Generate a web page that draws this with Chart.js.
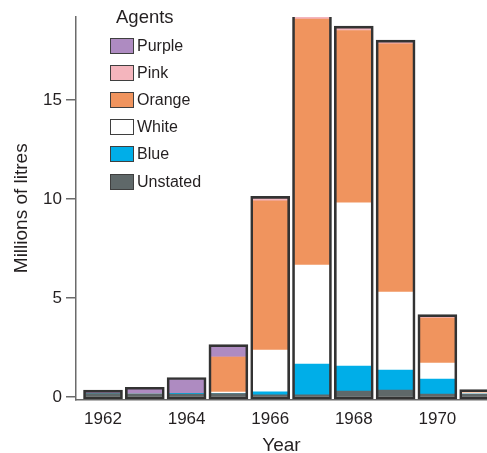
<!DOCTYPE html>
<html>
<head>
<meta charset="utf-8">
<script src="https://cdn.jsdelivr.net/npm/chart.js@4.4.1/dist/chart.umd.min.js"></script>
<style>
  html, body { margin: 0; padding: 0; background: #fff; overflow: hidden; }
  #wrap { position: relative; width: 487px; height: 453px; }
  #legend { position: absolute; left: 0; top: 0; font-family: "Liberation Sans", Arial, sans-serif; color: #231f20; }
  #legend .title { position: absolute; left: 116px; top: 7px; font-size: 18.5px; line-height: 20px; white-space: nowrap; }
  #legend .row { position: absolute; left: 110px; height: 16px; display: flex; align-items: center; white-space: nowrap; }
  #legend .box { width: 24px; height: 16px; box-sizing: border-box; border: 1.5px solid #3f3f3f; }
  #legend .lbl { margin-left: 3px; font-size: 16px; line-height: 16px; }
</style>
</head>
<body>
<div id="wrap">
  <canvas id="agents" width="487" height="453"></canvas>
  <div id="legend"></div>
</div>
<script>
// millions of litres sprayed, by year and agent
const years = [1962, 1963, 1964, 1965, 1966, 1967, 1968, 1969, 1970, 1971];
const unstated = [0.18, 0.15, 0.15, 0.18, 0.12, 0.12, 0.30, 0.35, 0.15, 0.16];
const blue     = [0, 0, 0.04, 0, 0.15, 1.55, 1.27, 1.01, 0.76, 0];
const white    = [0, 0, 0, 0.07, 2.10, 5.00, 8.24, 3.94, 0.81, 0.06];
const orange   = [0, 0, 0, 1.77, 7.55, 12.42, 8.71, 12.55, 2.27, 0.06];
const pink     = [0, 0, 0, 0, 0.12, 0.13, 0.12, 0.08, 0.08, 0];
const purple   = [0.07, 0.25, 0.70, 0.53, 0, 0, 0, 0, 0, 0];

const yTicks = [0, 5, 10, 15];
const xTicks = [1962, 1964, 1966, 1968, 1970];

const FONT = "'Liberation Sans', Arial, sans-serif";
const pad = 0.1; // outline sits just outside the filled stack

const agents = [
  { label: "Unstated", values: unstated, color: "#5f6869" },
  { label: "Blue", values: blue, color: "#00aee8" },
  { label: "White", values: white, color: "#ffffff" },
  { label: "Orange", values: orange, color: "#f0945e" },
  { label: "Pink", values: pink, color: "#f4b5bd" },
  { label: "Purple", values: purple, color: "#ae8bc1" },
];

const totals = years.map((y, i) => agents.reduce((s, a) => s + a.values[i], 0));

const datasets = [
  {
    label: "outline",
    stack: "outline",
    data: years.map((y, i) => ({ x: y, y: [-pad, totals[i] + pad] })),
    backgroundColor: "rgba(0,0,0,0)",
    borderColor: "#333333",
    borderWidth: 2,
    borderSkipped: false,
    barThickness: 39,
    grouped: false,
  },
  ...agents.map((a) => ({
    label: a.label,
    data: years.map((y, i) => ({ x: y, y: a.values[i] })),
    backgroundColor: a.color,
    borderWidth: 0,
    barThickness: 35,
    grouped: false,
  })),
];

const ctx = document.getElementById("agents").getContext("2d");

const chart = new Chart(ctx, {
  type: "bar",
  data: { datasets },
  options: {
    responsive: false,
    animation: false,
    layout: { padding: { top: 17, right: 0, left: 0, bottom: 0 } },
    plugins: { legend: { display: false }, tooltip: { enabled: false } },
    scales: {
      x: {
        type: "linear",
        stacked: true,
        offset: false,
        min: 1961.354,
        max: 1971.187,
        afterBuildTicks: (axis) => { axis.ticks = xTicks.map((v) => ({ value: v })); },
        afterFit: (axis) => { axis.height = 53.5; },
        grid: { display: false, drawTicks: false, offset: false },
        border: { display: true, color: "#6b6b6b", width: 1.5 },
        ticks: {
          font: { family: FONT, size: 17 },
          color: "#231f20",
          padding: 10,
          maxRotation: 0,
          callback: (v) => String(v),
        },
        title: {
          display: true,
          text: "Year",
          font: { family: FONT, size: 19, lineHeight: 1 },
          color: "#231f20",
          padding: { top: 0, bottom: -2 },
        },
      },
      y: {
        stacked: true,
        min: -0.12,
        max: 19.2,
        afterBuildTicks: (axis) => { axis.ticks = yTicks.map((v) => ({ value: v })); },
        afterFit: (axis) => { axis.width = 76; },
        grid: { drawOnChartArea: false, drawTicks: true, tickLength: 10, color: "#6b6b6b", lineWidth: 1.5 },
        border: { display: true, color: "#6b6b6b", width: 1.5 },
        ticks: {
          font: { family: FONT, size: 17 },
          color: "#231f20",
          padding: 4,
          callback: (v) => String(v),
        },
        title: {
          display: true,
          text: "Millions of litres",
          font: { family: FONT, size: 19, lineHeight: 1.2 },
          color: "#231f20",
          padding: { top: 10, bottom: 0 },
        },
      },
    },
  },
});

// legend inside the plot, top agent first
const legend = document.getElementById("legend");
legend.innerHTML = '<div class="title">Agents</div>';
agents.slice().reverse().forEach((a, i) => {
  const row = document.createElement("div");
  row.className = "row";
  row.style.top = (37.5 + i * 27.2) + "px";
  row.innerHTML = '<div class="box" style="background:' + a.color + '"></div><span class="lbl">' + a.label + "</span>";
  legend.appendChild(row);
});
</script>
</body>
</html>
